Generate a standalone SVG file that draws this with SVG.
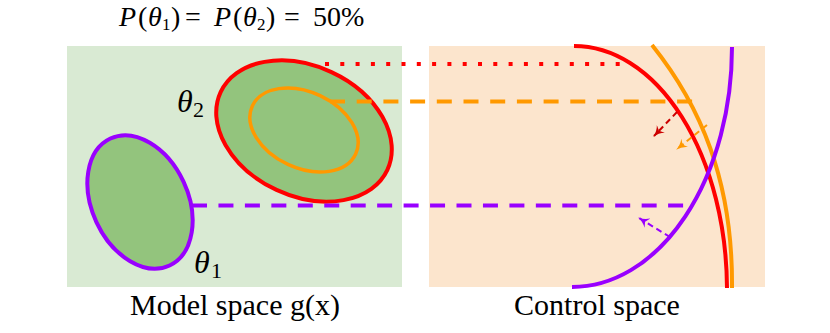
<svg xmlns="http://www.w3.org/2000/svg" width="830" height="333" viewBox="0 0 830 333">
<style>
  .serif { font-family: "Liberation Serif", "Times New Roman", serif; fill: #000; }
  .it { font-style: italic; }
  .t28 { font-size: 28px; }
  .t17 { font-size: 17px; }
  .t32 { font-size: 32px; }
  .t22 { font-size: 22px; }
  .t30 { font-size: 30px; }
  .blob { fill: #93c47d; }
  .arc { fill: none; stroke-width: 4; }
  .guide { fill: none; stroke-width: 4; }
  .small { fill: none; stroke-width: 2; stroke-dasharray: 6 4; }
</style>
<defs>
  <marker id="mDark" viewBox="0 0 10 10" refX="9" refY="5" markerWidth="11" markerHeight="11" markerUnits="userSpaceOnUse" orient="auto">
    <path d="M0,0 Q4,4 10,5 Q4,6 0,10 L2.5,5 Z" fill="#cc0000"/>
  </marker>
  <marker id="mOrange" viewBox="0 0 10 10" refX="9" refY="5" markerWidth="11" markerHeight="11" markerUnits="userSpaceOnUse" orient="auto">
    <path d="M0,0 Q4,4 10,5 Q4,6 0,10 L2.5,5 Z" fill="#ff9900"/>
  </marker>
  <marker id="mPurple" viewBox="0 0 10 10" refX="9" refY="5" markerWidth="11" markerHeight="11" markerUnits="userSpaceOnUse" orient="auto">
    <path d="M0,0 Q4,4 10,5 Q4,6 0,10 L2.5,5 Z" fill="#9900ff"/>
  </marker>
</defs>

<g id="title">
  <text class="serif t28" y="26"><tspan class="it t28" x="119">P</tspan><tspan class="t28" x="138">(</tspan><tspan class="it t28" x="148">θ</tspan><tspan class="t17" x="162" y="30">1</tspan><tspan class="t28" x="171" y="26">)</tspan><tspan class="t28" x="185">=</tspan><tspan class="it t28" x="214">P</tspan><tspan class="t28" x="233">(</tspan><tspan class="it t28" x="243">θ</tspan><tspan class="t17" x="257" y="30">2</tspan><tspan class="t28" x="266" y="26">)</tspan><tspan class="t28" x="284">=</tspan><tspan class="t28" x="313">50%</tspan></text>
</g>

<g id="model-space">
  <rect x="67" y="46" width="335" height="241" fill="#d9ead3"/>
  <text class="serif t30" x="235" y="315" text-anchor="middle">Model space g(x)</text>
</g>

<g id="control-space">
  <rect x="429" y="46" width="336" height="241" fill="#fce5cd"/>
  <text class="serif t30" x="597" y="315" text-anchor="middle">Control space</text>
</g>

<g id="theta1">
  <ellipse class="blob" cx="140" cy="202" rx="48" ry="70" transform="rotate(-25 140 202)" stroke="#9900ff" stroke-width="4"/>
  <text class="serif t32"><tspan class="it t32" x="194" y="273">θ</tspan><tspan class="t22" x="211" y="278">1</tspan></text>
</g>

<g id="theta2">
  <ellipse class="blob" cx="304" cy="131" rx="92" ry="65" transform="rotate(25 304 131)" stroke="#ff0000" stroke-width="4"/>
  <ellipse class="blob" cx="304" cy="130" rx="57" ry="38" transform="rotate(25 304 130)" stroke="#ff9900" stroke-width="3.5"/>
  <text class="serif t32"><tspan class="it t32" x="177" y="112">θ</tspan><tspan class="t22" x="193" y="117">2</tspan></text>
</g>

<g id="boundaries">
  <path class="arc" d="M574,46 A153,244 0 0 1 727,288" stroke="#ff0000"/>
  <path class="arc" d="M652,45 C700,105 733,180 732,288" stroke="#ff9900"/>
  <path class="arc" d="M732,47 A160,240 0 0 1 572,287" stroke="#9900ff"/>
</g>

<g id="connectors">
  <line class="guide" x1="325" y1="64" x2="620" y2="64" stroke="#ff0000" stroke-dasharray="4 11.3"/>
  <line class="guide" x1="330" y1="101.5" x2="693" y2="101.5" stroke="#ff9900" stroke-dasharray="15 11.7"/>
  <line class="guide" x1="192" y1="205.5" x2="684" y2="205.5" stroke="#9900ff" stroke-dasharray="15 11.45"/>
  <line class="small" x1="677" y1="112" x2="654" y2="136" stroke="#cc0000" marker-end="url(#mDark)"/>
  <line class="small" x1="707" y1="125" x2="677" y2="149" stroke="#ff9900" marker-end="url(#mOrange)"/>
  <line class="small" x1="670" y1="237" x2="639" y2="218" stroke="#9900ff" marker-end="url(#mPurple)"/>
</g>
</svg>
